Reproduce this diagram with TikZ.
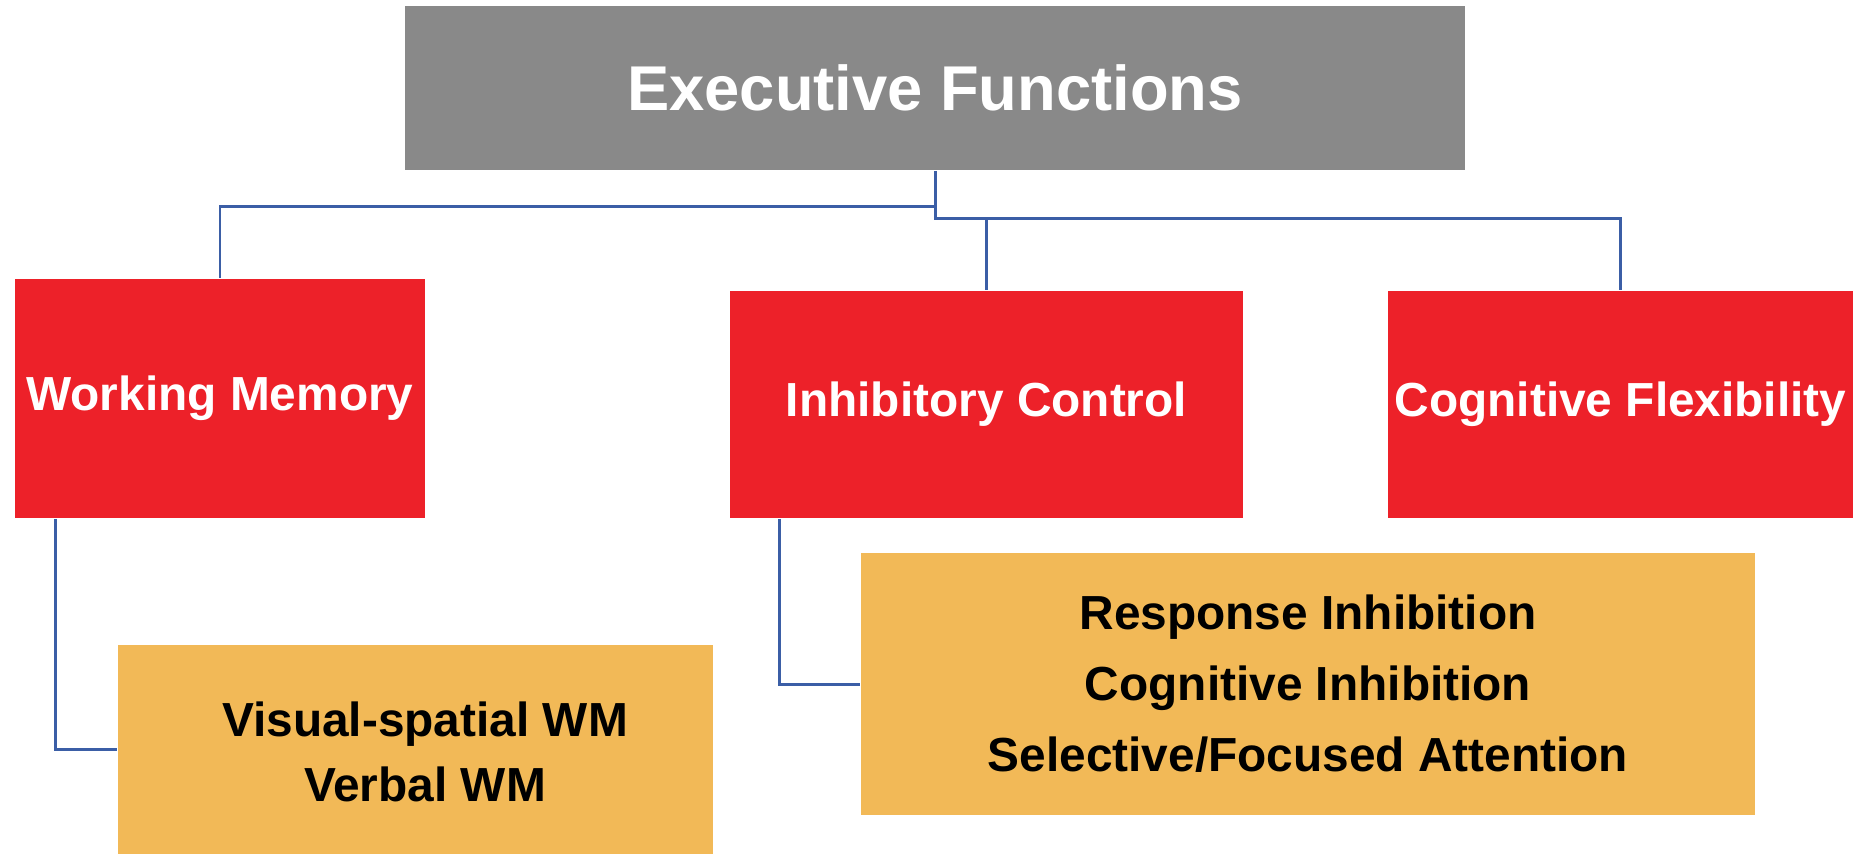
\documentclass[tikz,border=0pt]{standalone}
\usepackage{fontspec}
\setmainfont{Liberation Sans}
\usepackage{tikz}

\definecolor{efgray}{RGB}{137,137,137}
\definecolor{efred}{RGB}{237,33,41}
\definecolor{eforange}{RGB}{242,185,87}
\definecolor{eflink}{RGB}{59,94,166}

\begin{document}
\begin{tikzpicture}[x=0.01cm, y=-0.01cm,
  box/.style={inner sep=0pt, align=center,
    font=\fontsize{13.6}{20.2}\selectfont\bfseries},
  headbox/.style={box, fill=efgray, text=white,
    font=\fontsize{18}{22}\selectfont\bfseries},
  mainbox/.style={box, fill=efred, text=white},
  subbox/.style={box, fill=eforange, text=black},
  link/.style={draw=eflink, line width=0.85pt}]

  \useasboundingbox (0,0) rectangle (1857,854);

  %% top
  \node[headbox, minimum width=10.6cm, minimum height=1.64cm] (ef) at (935,88) {Executive Functions};

  %% three functions
  \node[mainbox, minimum width=4.1cm, minimum height=2.39cm] (wm) at (220,398.5) {Working Memory};
  \node[mainbox, minimum width=5.13cm, minimum height=2.27cm] (ic) at (986.5,404.5) {Inhibitory Control};
  \node[mainbox, minimum width=4.65cm, minimum height=2.27cm] (cf) at (1620.5,404.5) {Cognitive Flexibility};

  %% sub components
  \node[subbox, minimum width=5.95cm, minimum height=2.09cm] (vs) at (415.5,749.5) {};
  \node[box] (vstext) at (425,752) {Visual-spatial WM\\[-1.7pt]Verbal WM};
  \node[subbox, minimum width=8.94cm, minimum height=2.62cm] (ri) at (1308,684)
    {Response Inhibition\\Cognitive Inhibition\\Selective/Focused Attention};

  \coordinate (lfork) at (935,206);
  \coordinate (rfork) at (935,218);

  \draw[link] (ef.south) -- (rfork) -| (cf.north); % EF->CF
  \draw[link] (rfork) -| (ic.north); % EF->IC
  \draw[link] (lfork) -| (wm.north); % EF->WM

  \draw[link] (wm.south west) ++(41,0) |- (vs.west); % WM->VS
  \draw[link] (ic.south west) ++(50,0) |- (ri.west); % IC->RI

\end{tikzpicture}
\end{document}
